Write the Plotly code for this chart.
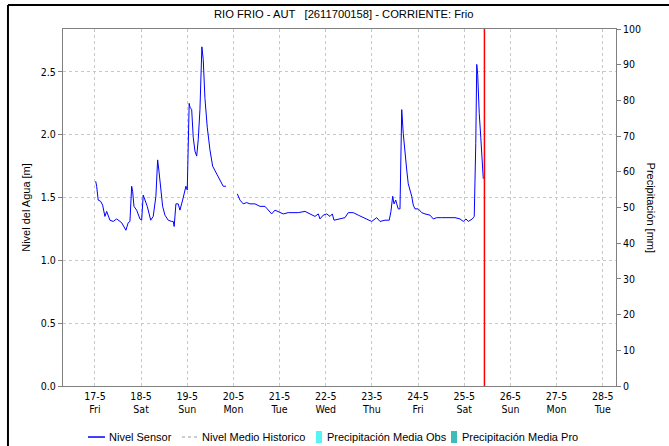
import pandas as pd
import plotly.graph_objects as go

# ---- data ----
base_date = "2024-05-17 00:00"
# hours since 17-5 00:00 (None marks the gap in the record)
hours = [0.4, 0.9, 1.7, 3.0, 4.0, 5.2, 6.1, 7.8, 9.5, 11.3, 13.9, 16.1, 17.3, 18.2,
         19.1, 19.6, 20.3, 21.7, 23.4, 24.3, 25.1, 26.0, 27.2, 29.0, 30.3, 31.7,
         32.4, 32.6, 33.3, 34.2, 35.2, 36.4, 38.1, 39.9, 40.7, 41.2, 42.1, 43.3,
         44.2, 45.6, 47.3, 48.0, 48.4, 49.0, 49.4, 50.3, 51.1, 52.0, 52.9, 53.7,
         54.6, 55.1, 55.6, 56.3, 57.2, 58.4, 59.8, 61.2, 63.3, 65.0, 66.7, 68.1,
         None,
         74.0, 75.4, 77.1, 78.9, 80.6, 83.2, 85.8, 88.4, 89.6, 91.9, 93.6, 95.3,
         97.9, 100.5, 103.1, 105.7, 109.2, 111.8, 114.4, 116.1, 117.0, 118.7,
         120.5, 122.2, 123.4, 124.3, 127.4, 130.0, 131.7, 134.3, 136.9, 139.5,
         141.3, 143.9, 146.5, 148.2, 150.8, 153.0, 153.9, 154.8, 155.5, 156.4,
         156.9, 157.7, 158.6, 159.0, 159.5, 160.3, 161.2, 162.1, 162.9, 163.8,
         164.7, 165.5, 166.4, 168.1, 169.9, 171.6, 174.2, 175.9, 177.7, 180.3,
         183.7, 187.2, 189.8, 191.5, 192.9, 194.1, 196.2, 197.2, 198.0, 198.5,
         199.0, 199.3, 199.8, 200.6, 201.1, 201.6, 201.9]
nivel = [1.63, 1.59, 1.48, 1.47, 1.44, 1.35, 1.39, 1.32, 1.31, 1.33, 1.30, 1.24, 1.30, 1.31,
         1.59, 1.55, 1.43, 1.40, 1.33, 1.32, 1.52, 1.48, 1.43, 1.32, 1.35, 1.51,
         1.72, 1.80, 1.71, 1.59, 1.43, 1.36, 1.32, 1.31, 1.31, 1.27, 1.45, 1.45,
         1.40, 1.48, 1.59, 1.56, 1.91, 2.25, 2.22, 2.20, 1.98, 1.87, 1.83, 1.96,
         2.20, 2.52, 2.70, 2.60, 2.29, 2.06, 1.88, 1.75, 1.69, 1.65, 1.59, 1.59,
         None,
         1.53, 1.48, 1.45, 1.46, 1.45, 1.45, 1.43, 1.43, 1.41, 1.37, 1.40, 1.39,
         1.37, 1.38, 1.38, 1.38, 1.39, 1.37, 1.35, 1.37, 1.33, 1.36,
         1.37, 1.35, 1.37, 1.32, 1.33, 1.34, 1.38, 1.38, 1.36, 1.34,
         1.33, 1.31, 1.34, 1.31, 1.32, 1.32, 1.39, 1.51, 1.45, 1.48,
         1.45, 1.41, 1.41, 1.80, 2.20, 2.01, 1.83, 1.72, 1.61, 1.56,
         1.51, 1.44, 1.41, 1.41, 1.38, 1.37, 1.36, 1.33, 1.34, 1.34,
         1.34, 1.34, 1.33, 1.31, 1.33, 1.31, 1.33, 1.35, 1.93, 2.56,
         2.48, 2.34, 2.17, 1.98, 1.84, 1.73, 1.65]
now_time = "2024-05-25 10:30"
x_range = ["2024-05-16 07:24", "2024-05-28 06:54"]
tick_dates = ["2024-05-%02d" % d for d in range(17, 29)]
tick_days = ["Fri", "Sat", "Sun", "Mon", "Tue", "Wed", "Thu", "Fri", "Sat", "Sun", "Mon", "Tue"]
tick_text = ["%d-5<br>%s" % (int(d[-2:]), w) for d, w in zip(tick_dates, tick_days)]
level_range = [0, 2.842]
level_ticks = [0, 0.5, 1.0, 1.5, 2.0, 2.5]
precip_range = [0, 100]
title = "RIO FRIO - AUT   [2611700158] - CORRIENTE: Frio"
legend_names = ["Nivel Sensor", "Nivel Medio Historico",
                "Precipitación Media Obs", "Precipitación Media Pro"]

t0 = pd.Timestamp(base_date)
times = [None if h is None else t0 + pd.Timedelta(hours=h) for h in hours]

FONT = "Liberation Sans, Arial, sans-serif"
NARROW = "Liberation Sans Narrow, DejaVu Sans Condensed, Arial Narrow, Liberation Sans, sans-serif"
COL_OBS = "#55f5f5"
COL_PRO = "#3cbdb5"

fig = go.Figure()
fig.add_trace(go.Scatter(x=times, y=nivel, mode="lines", name=legend_names[0],
                         line=dict(color="#0000ff", width=1), connectgaps=False))
fig.add_trace(go.Scatter(x=[None], y=[None], mode="lines", name=legend_names[1],
                         line=dict(color="#bdbdbd", width=1.5, dash="dot")))
fig.add_trace(go.Bar(x=[None], y=[None], name=legend_names[2],
                     marker_color=COL_OBS, yaxis="y2"))
fig.add_trace(go.Bar(x=[None], y=[None], name=legend_names[3],
                     marker_color=COL_PRO, yaxis="y2"))

# "now" marker
fig.add_shape(type="line", xref="x", yref="paper", x0=now_time, x1=now_time, y0=0, y1=1,
              line=dict(color="#ff0000", width=1.5))
# outer frame (top/left)
fig.add_shape(type="line", xref="paper", yref="paper", x0=-0.0995, x1=-0.0995, y0=-0.3, y1=1.0672,
              line=dict(color="#000000", width=2))
fig.add_shape(type="line", xref="paper", yref="paper", x0=-0.0995, x1=1.2, y0=1.0672, y1=1.0672,
              line=dict(color="#000000", width=2))

# title
fig.add_annotation(text=title, xref="paper", yref="paper", x=0.5075, y=1.042,
                   xanchor="center", yanchor="middle", showarrow=False,
                   font=dict(size=11.2, color="#000", family=FONT))
# right axis title
fig.add_annotation(text="Precipitación [mm]", textangle=90, xref="paper", yref="paper",
                   x=1.065, y=0.5, xanchor="center", yanchor="middle", showarrow=False,
                   font=dict(size=11, color="#000"))

# manual legend
ly = -0.1429
fig.add_shape(type="line", xref="paper", yref="paper", x0=0.0452, x1=0.0759, y0=ly, y1=ly,
              line=dict(color="#0000ff", width=1.5))
fig.add_shape(type="line", xref="paper", yref="paper", x0=0.2152, x1=0.2423, y0=ly, y1=ly,
              line=dict(color="#bdbdbd", width=1.5, dash="3px,3px"))
fig.add_shape(type="rect", xref="paper", yref="paper", x0=0.4575, x1=0.4684, y0=-0.1597, y1=-0.126,
              line=dict(width=0), fillcolor=COL_OBS)
fig.add_shape(type="rect", xref="paper", yref="paper", x0=0.7016, x1=0.7125, y0=-0.1597, y1=-0.126,
              line=dict(width=0), fillcolor=COL_PRO)
for name, lx in zip(legend_names, [0.0796, 0.2477, 0.4738, 0.7179]):
    fig.add_annotation(text=name, xref="paper", yref="paper", x=lx, y=ly,
                       xanchor="left", yanchor="middle", showarrow=False,
                       font=dict(size=11, color="#000"))

fig.update_layout(
    width=669, height=446,
    margin=dict(l=63, r=53, t=29, b=60),
    paper_bgcolor="white", plot_bgcolor="white",
    font=dict(family=FONT, size=10, color="#000"),
    showlegend=False,
    xaxis=dict(type="date", range=x_range, tickvals=tick_dates, ticktext=tick_text,
               showgrid=True, gridcolor="#c8c8c8", griddash="3px,3px", gridwidth=1,
               showline=True, linecolor="#808080", mirror=True, ticks="", zeroline=False,
               tickfont=dict(size=10.5, family=NARROW), automargin=False),
    yaxis=dict(range=level_range, tickvals=level_ticks, tickformat=".1f",
               showgrid=True, gridcolor="#c8c8c8", griddash="3px,3px", gridwidth=1,
               showline=True, linecolor="#808080", ticks="outside", ticklen=4,
               tickcolor="#808080", zeroline=False, automargin=False,
               tickfont=dict(size=10.5, family=NARROW),
               title=dict(text="Nivel del Agua [m]", font=dict(size=11), standoff=8)),
    yaxis2=dict(range=precip_range, overlaying="y", side="right", dtick=10,
                showgrid=False, showline=True, linecolor="#808080", ticks="outside",
                ticklen=4, tickcolor="#808080", zeroline=False, automargin=False,
                tickfont=dict(size=10.5, family=NARROW)),
    bargap=0.2,
)

fig.write_html("out.html", config={"displayModeBar": False},
               post_script="document.body.style.margin='0';document.body.style.overflow='hidden';")
